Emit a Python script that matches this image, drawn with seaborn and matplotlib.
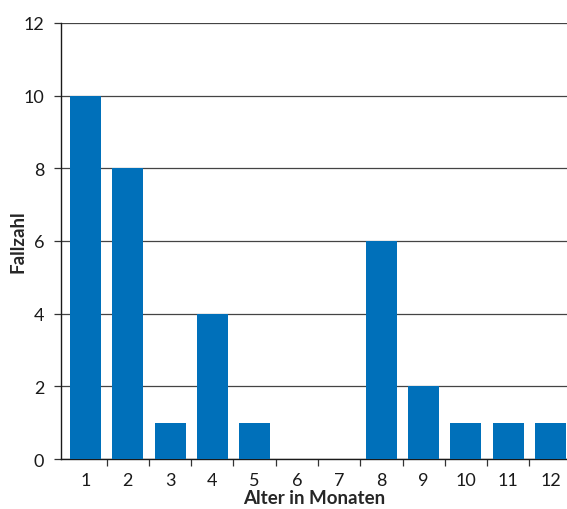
import matplotlib
matplotlib.use("Agg")
import matplotlib.pyplot as plt
import seaborn as sns
import pandas as pd
import numpy as np

months = ["1", "2", "3", "4", "5", "6", "7", "8", "9", "10", "11", "12"]
cases = [10, 8, 1, 4, 1, 0, 0, 6, 2, 1, 1, 1]
y_ticks = [0, 2, 4, 6, 8, 10, 12]

sns.set_theme(style="white")
plt.rcParams["font.family"] = ["Lato", "DejaVu Sans"]

df = pd.DataFrame({"Monat": months, "Fallzahl": cases})

fig = plt.figure(figsize=(5.67, 5.10), dpi=100)
ax = fig.add_axes([0.1076, 0.098, 0.8924, 0.855])

sns.barplot(data=df, x="Monat", y="Fallzahl", color="#0070BA", saturation=1,
            width=0.733, linewidth=0, ax=ax, zorder=3)

ax.set_xlim(-0.58, 11.39)
ax.set_ylim(0, 12)
ax.set_yticks(y_ticks)
ax.yaxis.grid(True, color="#444444", linewidth=0.9, zorder=0)
ax.set_axisbelow(True)

# category labels centred, separator ticks between categories
ax.set_xticks(np.arange(len(months)))
ax.set_xticklabels(months)
ax.set_xticks(np.arange(1, len(months)) - 0.5, minor=True)
ax.tick_params(axis="x", which="major", length=0, pad=9, labelsize=13, colors="#1a1a1a")
ax.tick_params(axis="x", which="minor", length=5, width=0.9, color="#333333", bottom=True)
ax.tick_params(axis="y", length=5, width=0.9, color="#333333", left=True, pad=7,
               labelsize=13, labelcolor="#1a1a1a")

for side in ["top", "right"]:
    ax.spines[side].set_visible(False)
for side in ["left", "bottom"]:
    ax.spines[side].set_color("#1a1a1a")
    ax.spines[side].set_linewidth(1.0)

ax.set_xlabel("Alter in Monaten", fontsize=13.5, fontweight="bold")
ax.set_ylabel("Fallzahl", fontsize=13.5, fontweight="bold")
ax.xaxis.set_label_coords(0.5, -0.068)
ax.yaxis.set_label_coords(-0.068, 0.5)

fig.savefig("out.png", dpi=100)
